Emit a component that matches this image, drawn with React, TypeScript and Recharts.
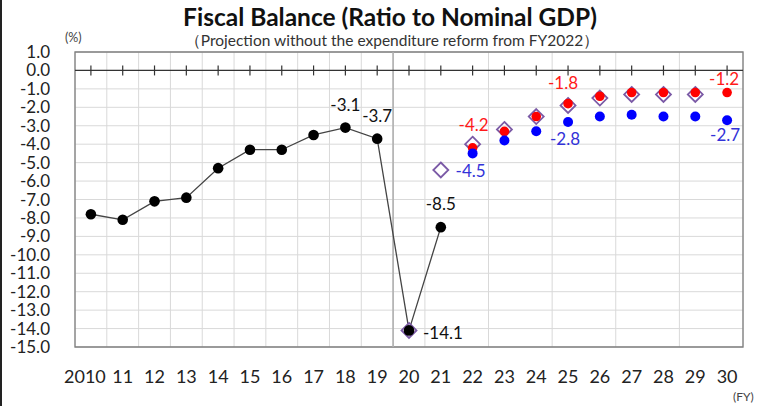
import React from "react";
import {
  ComposedChart,
  Line,
  XAxis,
  YAxis,
  CartesianGrid,
  ReferenceLine,
  ReferenceArea,
  LabelList,
} from "recharts";

// fiscal years, 2010..2030
const years = [
  "2010", "11", "12", "13", "14", "15", "16", "17", "18", "19",
  "20", "21", "22", "23", "24", "25", "26", "27", "28", "29", "30",
];

// actual results (black line)
const actual = [
  -7.8, -8.1, -7.1, -6.9, -5.3, -4.3, -4.3, -3.5, -3.1, -3.7,
  -14.1, -8.5, null, null, null, null, null, null, null, null, null,
];

// previous projection (hollow purple diamonds)
const previous = [
  null, null, null, null, null, null, null, null, null, null,
  -14.1, -5.4, -4.0, -3.2, -2.5, -1.9, -1.5, -1.3, -1.3, -1.3, null,
];

// growth achievement case (red)
const growthCase = [
  null, null, null, null, null, null, null, null, null, null,
  null, null, -4.2, -3.3, -2.5, -1.8, -1.4, -1.2, -1.2, -1.2, -1.2,
];

// baseline case (blue)
const baselineCase = [
  null, null, null, null, null, null, null, null, null, null,
  null, null, -4.5, -3.8, -3.3, -2.8, -2.5, -2.4, -2.5, -2.5, -2.7,
];

const yTicks = [1, 0, -1, -2, -3, -4, -5, -6, -7, -8, -9, -10, -11, -12, -13, -14, -15];

const FONT = "Lato, 'Open Sans', sans-serif";

const data = years.map((label, i) => ({
  x: i,
  label,
  actual: actual[i],
  previous: previous[i],
  growth: growthCase[i],
  baseline: baselineCase[i],
}));

const xTicks = years.map((_, i) => i);
const gridTicks = [...years.map((_, i) => i - 0.5), years.length - 0.5];

// which points get a value label, and where it sits relative to the point
type Spot = { dx: number; dy: number; anchor?: "start" | "middle" | "end" };
const actualLabels: Record<number, Spot> = {
  8: { dx: 0, dy: -23 },
  9: { dx: 0, dy: -23 },
  10: { dx: 14, dy: 2, anchor: "start" },
  11: { dx: 0, dy: -24 },
};
const growthLabels: Record<number, Spot> = {
  12: { dx: 1, dy: -23 },
  15: { dx: -5, dy: -21 },
  20: { dx: -3, dy: -14 },
};
const baselineLabels: Record<number, Spot> = {
  12: { dx: -2, dy: 17 },
  15: { dx: -3, dy: 16 },
  20: { dx: -2, dy: 14 },
};

const makeLabel = (spots: Record<number, Spot>, color: string) => (props: any) => {
  const { x, y, value, index } = props;
  const s = spots[index];
  if (!s || value == null) return null;
  return (
    <text
      x={x + s.dx}
      y={y + s.dy}
      textAnchor={s.anchor || "middle"}
      dominantBaseline="central"
      fill={color}
      fontSize={17}
      fontFamily={FONT}
    >
      {Number(value).toFixed(1)}
    </text>
  );
};

const roundDot = (fill: string, r: number) => (props: any) => {
  const { cx, cy, value, index } = props;
  if (value == null || cy == null) return <g key={`e-${index}`} />;
  return <circle key={`d-${index}`} cx={cx} cy={cy} r={r} fill={fill} />;
};

const diamondDot = (props: any) => {
  const { cx, cy, value, index } = props;
  if (value == null || cy == null) return <g key={`e-${index}`} />;
  const h = 7.5;
  return (
    <polygon
      key={`m-${index}`}
      points={`${cx},${cy - h} ${cx + h},${cy} ${cx},${cy + h} ${cx - h},${cy}`}
      fill="#ffffff"
      fillOpacity={0.4}
      stroke="#7b5aa6"
      strokeWidth={1.8}
    />
  );
};

const XTick = (props: any) => {
  const { x, y, payload } = props;
  const shift = payload.value === 0 ? -6 : 0;
  return (
    <text
      x={x + shift}
      y={y}
      textAnchor="middle"
      dominantBaseline="central"
      fontSize={18}
      fontFamily={FONT}
      fill="#222"
    >
      {years[payload.value]}
    </text>
  );
};

const App: React.FC = () => {
  return (
    <div
      style={{
        position: "relative",
        width: 757,
        height: 406,
        background: "#ffffff",
        fontFamily: FONT,
        overflow: "hidden",
      }}
    >
      <style>{`body{margin:0}`}</style>
      <div
        style={{
          position: "absolute",
          left: 0,
          top: 0,
          width: 2,
          height: 406,
          background: "#222",
        }}
      />
      <div
        style={{
          position: "absolute",
          left: 0,
          top: 2,
          width: 780,
          textAlign: "center",
          fontSize: 24.5,
          fontWeight: 700,
          color: "#111",
        }}
      >
        Fiscal Balance (Ratio to Nominal GDP)
      </div>
      <div
        style={{
          position: "absolute",
          left: 0,
          top: 31,
          width: 784,
          textAlign: "center",
          fontSize: 15.5,
          color: "#333",
        }}
      >
        （Projection without the expenditure reform from FY2022）
      </div>
      <div
        style={{ position: "absolute", left: 65, top: 30, fontSize: 12.5, color: "#444" }}
      >
        (%)
      </div>
      <div
        style={{ position: "absolute", left: 733, top: 389, fontSize: 12, color: "#444" }}
      >
        (FY)
      </div>

      <ComposedChart
        width={757}
        height={406}
        data={data}
        margin={{ top: 52, right: 14, bottom: 19, left: 15 }}
      >
        <XAxis
          dataKey="x"
          type="number"
          domain={[-0.5, years.length - 0.5]}
          ticks={xTicks}
          interval={0}
          axisLine={false}
          tickLine={false}
          tickSize={0}
          tickMargin={29}
          tick={<XTick />}
          height={40}
        />
        <XAxis
          xAxisId="grid"
          dataKey="x"
          type="number"
          domain={[-0.5, years.length - 0.5]}
          ticks={gridTicks}
          hide
        />
        <YAxis
          type="number"
          domain={[-15, 1]}
          ticks={yTicks}
          interval={0}
          width={60}
          axisLine={false}
          tickLine={false}
          tickSize={0}
          tickMargin={25}
          tickFormatter={(v: number) => v.toFixed(1)}
          tick={{ fontSize: 17, fontFamily: FONT, fill: "#222" }}
        />
        <CartesianGrid xAxisId="grid" stroke="#d9d9d9" strokeWidth={1} />
        <ReferenceArea
          x1={-0.5}
          x2={years.length - 0.5}
          y1={-15}
          y2={1}
          fill="none"
          stroke="#7f7f7f"
          strokeWidth={1.3}
          ifOverflow="visible"
        />
        <ReferenceLine x={9.5} stroke="#b0b0b0" strokeWidth={1.6} />
        <ReferenceLine y={0} stroke="#333" strokeWidth={1.3} />
        {xTicks.map((i) => (
          <ReferenceLine
            key={`t-${i}`}
            segment={[
              { x: i, y: 0.27 },
              { x: i, y: -0.27 },
            ]}
            stroke="#333"
            strokeWidth={1.2}
            ifOverflow="visible"
          />
        ))}

        <Line
          dataKey="previous"
          stroke="none"
          dot={diamondDot}
          activeDot={false}
          isAnimationActive={false}
        />
        <Line
          dataKey="growth"
          stroke="none"
          dot={roundDot("#ff0000", 4.8)}
          activeDot={false}
          isAnimationActive={false}
        >
          <LabelList dataKey="growth" content={makeLabel(growthLabels, "#ff1a1a")} />
        </Line>
        <Line
          dataKey="baseline"
          stroke="none"
          dot={roundDot("#0000ff", 5)}
          activeDot={false}
          isAnimationActive={false}
        >
          <LabelList dataKey="baseline" content={makeLabel(baselineLabels, "#3232d8")} />
        </Line>
        <Line
          dataKey="actual"
          stroke="#444"
          strokeWidth={1.3}
          dot={roundDot("#000000", 5.3)}
          activeDot={false}
          isAnimationActive={false}
        >
          <LabelList dataKey="actual" content={makeLabel(actualLabels, "#111")} />
        </Line>
      </ComposedChart>
    </div>
  );
};

export default App;
